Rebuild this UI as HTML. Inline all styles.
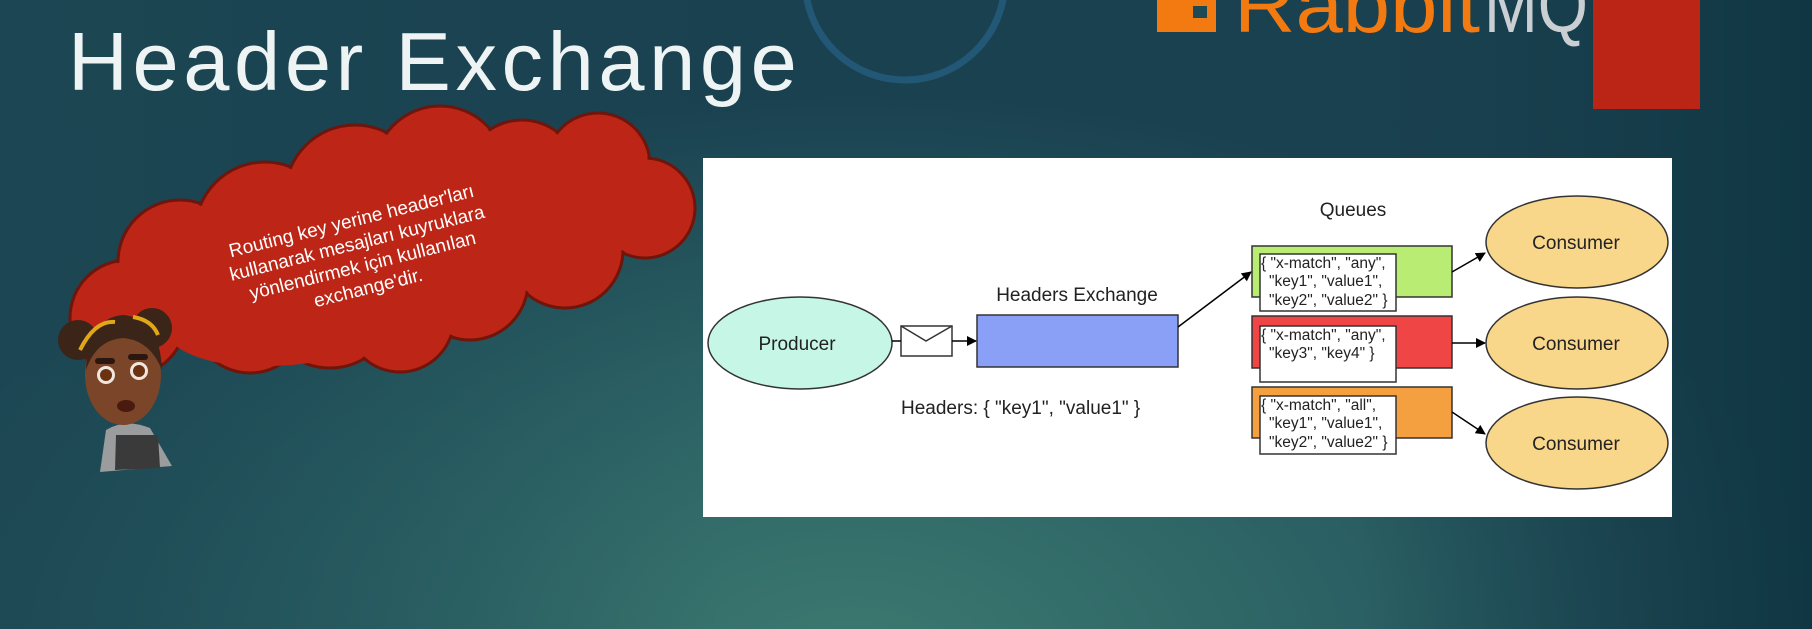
<!DOCTYPE html>
<html><head><meta charset="utf-8"><style>
html,body{margin:0;padding:0;width:1812px;height:629px;overflow:hidden;background:#1f4d57}
svg{display:block}
</style></head><body>
<svg width="1812" height="629" viewBox="0 0 1812 629" xmlns="http://www.w3.org/2000/svg" font-family="Liberation Sans, Arial, sans-serif">
<defs>
<radialGradient id="bg" cx="0.45" cy="1.05" r="0.9" gradientTransform="translate(0.2 0) scale(0.6 1)">
<stop offset="0" stop-color="#3c7a70"/>
<stop offset="0.55" stop-color="#2a5f63"/>
<stop offset="1" stop-color="#1a4150"/>
</radialGradient>
<linearGradient id="bg2" x1="0" y1="0" x2="1" y2="0">
<stop offset="0" stop-color="#1d4a55" stop-opacity="0.6"/>
<stop offset="0.4" stop-color="#1d4a55" stop-opacity="0"/>
<stop offset="0.75" stop-color="#173d4a" stop-opacity="0"/>
<stop offset="1" stop-color="#0f3542" stop-opacity="0.9"/>
</linearGradient>
<marker id="ar" markerWidth="10" markerHeight="10" refX="9" refY="5" orient="auto" markerUnits="userSpaceOnUse">
<path d="M0,0 L10,5 L0,10 z" fill="#000"/>
</marker>
</defs>
<rect width="1812" height="629" fill="#2a5f63"/>
<rect width="1812" height="629" fill="url(#bg)"/>
<rect width="1812" height="629" fill="url(#bg2)"/>

<!-- blue arc -->
<circle cx="905" cy="-20" r="100" fill="none" stroke="#2b6a96" stroke-width="7" opacity="0.55"/>

<!-- RabbitMQ logo -->
<rect x="1157" y="-10" width="59" height="42" fill="#f27a10"/>
<rect x="1193" y="6" width="14" height="12" fill="#1e4a55"/>
<g transform="translate(0,32) scale(1,1.7)">
<text x="1234" y="0" font-size="46" fill="#f27a10" textLength="246" lengthAdjust="spacingAndGlyphs">Rabbit</text>
<text x="1484" y="0" font-size="46" fill="#c9cfd2" textLength="104" lengthAdjust="spacingAndGlyphs">MQ</text>
</g>
<rect x="1593" y="0" width="107" height="109" fill="#bb2515"/>

<!-- Title -->
<text x="68" y="90" font-size="83" fill="#eef3f3" letter-spacing="4.6">Header Exchange</text>

<!-- Cloud -->
<g stroke="#6e150c" stroke-width="3" fill="#bd2616">
<circle cx="128" cy="318" r="58"/>
<circle cx="180" cy="262" r="62"/>
<circle cx="265" cy="232" r="70"/>
<circle cx="250" cy="315" r="58"/>
<circle cx="330" cy="300" r="68"/>
<circle cx="355" cy="195" r="70"/>
<circle cx="440" cy="172" r="66"/>
<circle cx="522" cy="178" r="58"/>
<circle cx="598" cy="165" r="52"/>
<circle cx="645" cy="208" r="50"/>
<circle cx="565" cy="250" r="58"/>
<circle cx="470" cy="282" r="58"/>
<circle cx="400" cy="318" r="54"/>
</g>
<g fill="#bd2616">
<circle cx="128" cy="318" r="56"/>
<circle cx="180" cy="262" r="60"/>
<circle cx="265" cy="232" r="68"/>
<circle cx="250" cy="315" r="56"/>
<circle cx="330" cy="300" r="66"/>
<circle cx="355" cy="195" r="68"/>
<circle cx="440" cy="172" r="64"/>
<circle cx="522" cy="178" r="56"/>
<circle cx="598" cy="165" r="50"/>
<circle cx="645" cy="208" r="48"/>
<circle cx="565" cy="250" r="56"/>
<circle cx="470" cy="282" r="56"/>
<circle cx="400" cy="318" r="52"/>
<ellipse cx="380" cy="255" rx="230" ry="90" transform="rotate(-18 380 255)"/>
</g>
<g transform="rotate(-14 360 255)" fill="#ffffff" font-size="19" text-anchor="middle">
<text x="360" y="226">Routing key yerine header'ları</text>
<text x="360" y="249">kullanarak mesajları kuyruklara</text>
<text x="360" y="272">yönlendirmek için kullanılan</text>
<text x="360" y="295">exchange'dir.</text>
</g>

<!-- Character -->
<g>
<path d="M100,472 L106,430 Q125,418 150,428 L172,466 Z" fill="#9a9c9e"/>
<path d="M115,470 L116,435 L158,435 L160,468 Z" fill="#3a3a3a"/>
<circle cx="78" cy="340" r="20" fill="#3b2418"/>
<circle cx="152" cy="328" r="20" fill="#3b2418"/>
<ellipse cx="123" cy="375" rx="38" ry="50" fill="#7a4528"/>
<path d="M86,370 Q88,318 123,315 Q160,318 162,370 Q150,340 123,338 Q96,340 86,370 Z" fill="#3b2418"/>
<path d="M80,350 Q95,320 115,322" stroke="#e0a818" stroke-width="4" fill="none"/>
<path d="M133,317 Q152,320 158,335" stroke="#e0a818" stroke-width="4" fill="none"/>
<rect x="95" y="358" width="20" height="6" rx="3" fill="#2a1810"/>
<rect x="128" y="354" width="20" height="6" rx="3" fill="#2a1810"/>
<circle cx="106" cy="375" r="9" fill="#f0e6df"/><circle cx="106" cy="375" r="6" fill="#6a3210"/>
<circle cx="139" cy="371" r="9" fill="#f0e6df"/><circle cx="139" cy="371" r="6" fill="#6a3210"/>
<ellipse cx="126" cy="406" rx="9" ry="6" fill="#4a1a10"/>
</g>

<!-- Diagram panel -->
<rect x="703" y="158" width="969" height="359" fill="#ffffff"/>

<g stroke="#333" stroke-width="1.5">
<ellipse cx="800" cy="343" rx="92" ry="46" fill="#c6f6e6"/>
<rect x="977" y="315" width="201" height="52" fill="#8aa0f6"/>
<rect x="901" y="326" width="51" height="30" fill="#fff"/>
<path d="M901,326 L926,341 L952,326" fill="none"/>
<rect x="1252" y="246" width="200" height="51" fill="#b9ec72"/>
<rect x="1260" y="254" width="136" height="57" fill="#fff"/>
<rect x="1252" y="316" width="200" height="52" fill="#f04545"/>
<rect x="1260" y="326" width="136" height="56" fill="#fff"/>
<rect x="1252" y="387" width="200" height="51" fill="#f5a040"/>
<rect x="1260" y="396" width="136" height="58" fill="#fff"/>
<ellipse cx="1577" cy="242" rx="91" ry="46" fill="#f8d68a"/>
<ellipse cx="1577" cy="343" rx="91" ry="46" fill="#f8d68a"/>
<ellipse cx="1577" cy="443" rx="91" ry="46" fill="#f8d68a"/>
</g>
<g stroke="#000" stroke-width="1.5" fill="none">
<line x1="892" y1="341" x2="901" y2="341"/>
<line x1="952" y1="341" x2="976" y2="341" marker-end="url(#ar)"/>
<line x1="1178" y1="327" x2="1251" y2="272" marker-end="url(#ar)"/>
<line x1="1452" y1="272" x2="1485" y2="253" marker-end="url(#ar)"/>
<line x1="1452" y1="343" x2="1485" y2="343" marker-end="url(#ar)"/>
<line x1="1452" y1="412" x2="1485" y2="434" marker-end="url(#ar)"/>
</g>
<g fill="#222" font-size="19" text-anchor="middle">
<text x="797" y="350">Producer</text>
<text x="1077" y="301">Headers Exchange</text>
<text x="1353" y="216">Queues</text>
<text x="1576" y="249">Consumer</text>
<text x="1576" y="350">Consumer</text>
<text x="1576" y="450">Consumer</text>
</g>
<text x="901" y="414" font-size="19" fill="#222">Headers: { "key1", "value1" }</text>
<g fill="#222" font-size="15.5">
<text x="1261" y="268">{ "x-match", "any",</text>
<text x="1269" y="286">"key1", "value1",</text>
<text x="1269" y="305">"key2", "value2" }</text>
<text x="1261" y="340">{ "x-match", "any",</text>
<text x="1269" y="358">"key3", "key4" }</text>
<text x="1261" y="410">{ "x-match", "all",</text>
<text x="1269" y="428">"key1", "value1",</text>
<text x="1269" y="447">"key2", "value2" }</text>
</g>
</svg>
</body></html>
